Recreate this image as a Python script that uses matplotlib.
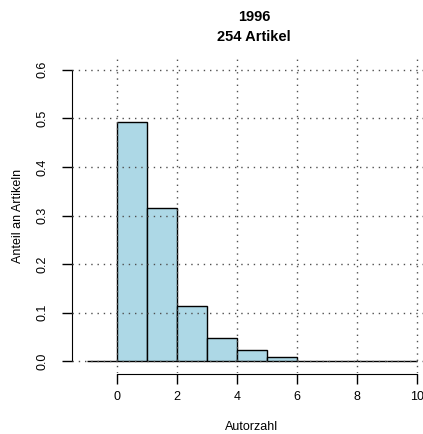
import matplotlib.pyplot as plt
import numpy as np

plt.rcParams['font.family'] = ['Liberation Sans', 'DejaVu Sans']

# histogram of author counts, 1996, 254 articles
bin_edges = [-1, 0, 1, 2, 3, 4, 5, 6, 7, 8, 9, 10]
shares = [0.0, 0.492, 0.315, 0.114, 0.047, 0.024, 0.008, 0.0, 0.0, 0.0, 0.0]
x_ticks = [0, 2, 4, 6, 8, 10]
y_ticks = [0.0, 0.1, 0.2, 0.3, 0.4, 0.5, 0.6]

fig = plt.figure(figsize=(4.23, 4.34), dpi=100)
W, H = 423, 434
# plot region in pixels (left, top, right, bottom)
l, t, r, b = 72, 58, 432, 373
ax = fig.add_axes([l / W, 1 - b / H, (r - l) / W, (b - t) / H])

lefts = np.array(bin_edges[:-1])
widths = np.diff(bin_edges)
ax.bar(lefts, shares, width=widths, align='edge', color='#ADD8E6',
       edgecolor='black', linewidth=1, zorder=2)

ax.set_xlim(-1.5, 10.5)
ax.set_ylim(-0.024, 0.624)

# dotted grid on top of bars
for xv in x_ticks:
    ax.axvline(xv, color='#505050', linestyle=(0, (1, 3.5)), linewidth=1, zorder=3)
for yv in y_ticks:
    ax.axhline(yv, color='#505050', linestyle=(0, (1, 3.5)), linewidth=1, zorder=3)

for s in ['top', 'right']:
    ax.spines[s].set_visible(False)
ax.spines['left'].set_bounds(0, 0.6)
ax.spines['bottom'].set_bounds(0, 10)
ax.spines['bottom'].set_position(('outward', 1))

ax.set_xticks(x_ticks)
ax.set_yticks(y_ticks)
ax.set_yticklabels([f'{v:.1f}' for v in y_ticks], rotation=90, va='center')
ax.tick_params(axis='both', labelsize=9, length=7, width=1, direction='out')
ax.tick_params(axis='x', pad=5)
ax.tick_params(axis='y', pad=10)

ax.set_xlabel('Autorzahl', fontsize=9, labelpad=13)
ax.set_ylabel('Anteil an Artikeln', fontsize=9, labelpad=9)
fig.text(254 / W, 1 - 17 / H, '1996', ha='center', va='center',
         fontsize=10.5, fontweight='bold')
fig.text(254 / W, 1 - 37 / H, '254 Artikel', ha='center', va='center',
         fontsize=10.5, fontweight='bold')

fig.savefig('out.png', dpi=100)
